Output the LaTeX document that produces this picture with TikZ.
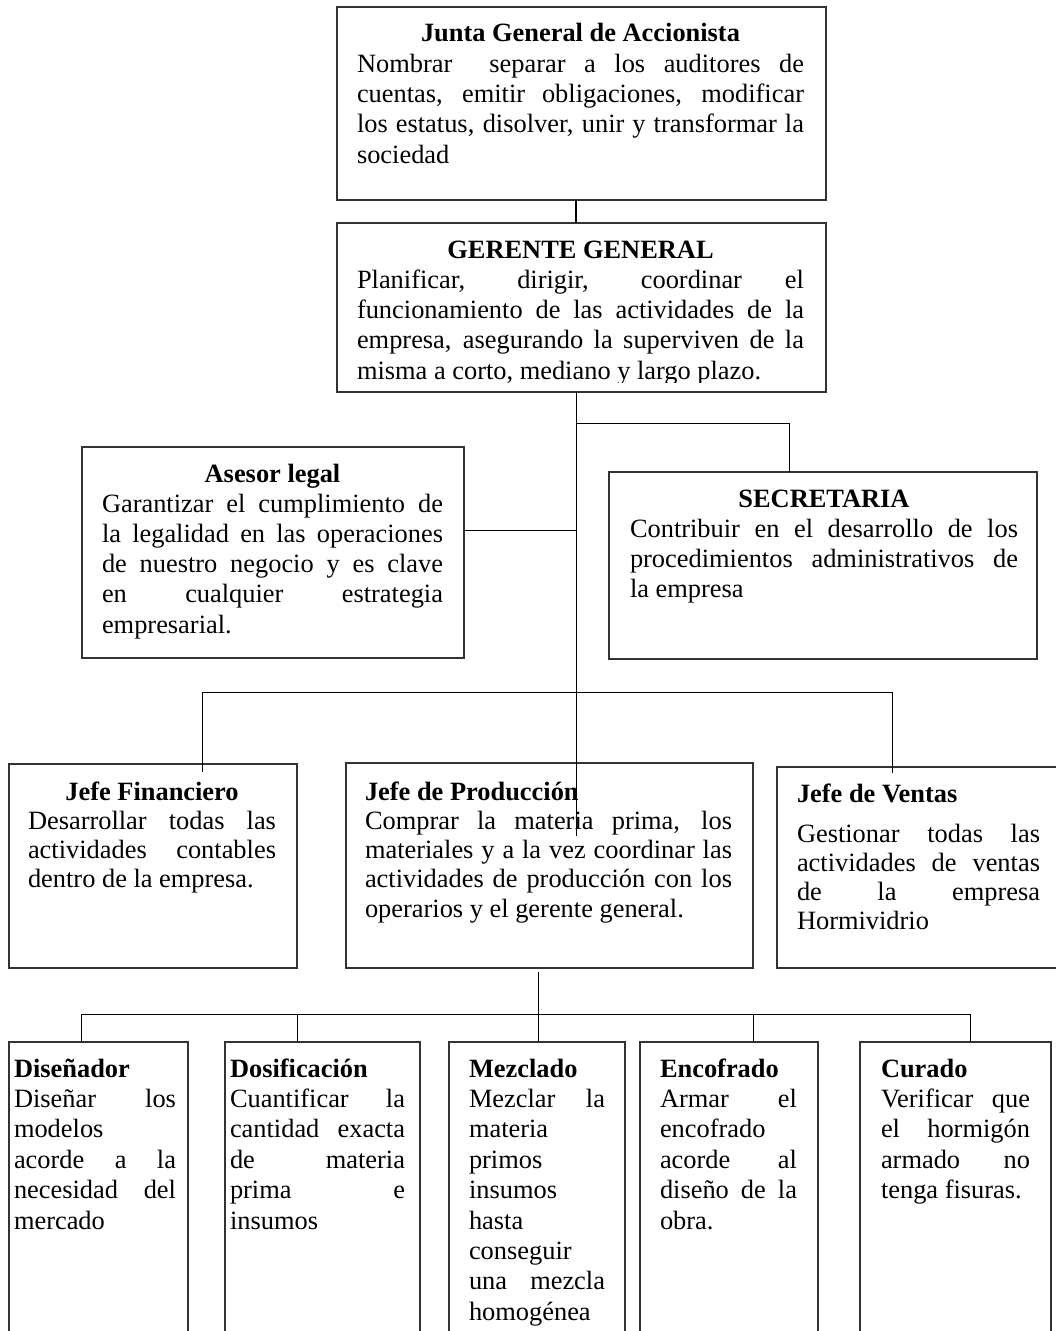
\documentclass[tikz,border=0pt]{standalone}
\usepackage{fontspec}
\setmainfont{Liberation Serif}
\newcommand\jl[1]{\makebox[\linewidth][s]{#1}}
\newcommand\ctitle[1]{\makebox[\linewidth][c]{\bfseries #1}}
\newcommand\ltitle[1]{{\bfseries #1}}
\newcommand\boxtext[3]{\parbox[t]{#1}{\fontsize{26.4pt}{#2}\selectfont #3}}
\begin{document}
\begin{tikzpicture}[x=1pt,y=-1pt,
  box/.style={draw=black!80, line width=1.2pt, inner sep=0pt, outer sep=0pt},
  conn/.style={draw=black, line width=1pt},
  thickconn/.style={draw=black, line width=2.6pt},
  txt/.style={anchor=base west, inner sep=0pt, outer sep=0pt}]
\useasboundingbox (0,0) rectangle (1056,1331);
\fill[white] (0,0) rectangle (1056,1331);

% ---------- boxes ----------
\node[box, minimum width=489pt, minimum height=193pt] (junta) at (581.5,103.5) {};
\node[box, minimum width=489pt, minimum height=169pt] (gerente) at (581.5,307.5) {};
\node[box, minimum width=382pt, minimum height=211pt] (asesor) at (273,552.5) {};
\node[box, minimum width=428pt, minimum height=187pt] (secre) at (823,565.5) {};
\node[box, minimum width=288pt, minimum height=204pt] (fin) at (153,866) {};
\node[box, minimum width=407pt, minimum height=205pt] (prod) at (549.5,865.5) {};
\node[box, minimum width=293pt, minimum height=201pt] (ventas) at (923.5,867.5) {};
\node[box, minimum width=179pt, minimum height=303pt] (dis) at (98.5,1193.5) {};
\node[box, minimum width=195pt, minimum height=303pt] (dos) at (322.5,1193.5) {};
\node[box, minimum width=176pt, minimum height=303pt] (mez) at (537,1193.5) {};
\node[box, minimum width=178pt, minimum height=303pt] (enc) at (729,1193.5) {};
\node[box, minimum width=191pt, minimum height=303pt] (cur) at (955.5,1193.5) {};

% ---------- junction coordinates ----------
\coordinate (spine) at (576,0);
\coordinate (spineEnd) at (576,836);
\coordinate (jas) at (576,530);
\coordinate (jsec) at (789,423);
\coordinate (barL) at (202,692);
\coordinate (barR) at (892,692);
\coordinate (finEnd) at (202,772);
\coordinate (venEnd) at (892,773);
\coordinate (pdrop) at (538,972);
\coordinate (bar2L) at (81,1014);
\coordinate (bar2B) at (297,1014);
\coordinate (bar2C) at (538,1014);
\coordinate (bar2D) at (753,1014);
\coordinate (bar2R) at (970,1014);

% ---------- connectors ----------
\draw[thickconn] (spine |- junta.south) -- (spine |- gerente.north);
\draw[conn] (spine |- gerente.south) -- (spineEnd);
\draw[conn] (jas -| asesor.east) -- (jas);
\draw[conn] (spine |- jsec) -- (jsec) -- (jsec |- secre.north);
\draw[conn] (barL) -- (barR);
\draw[conn] (barL) -- (finEnd);
\draw[conn] (barR) -- (venEnd);
\draw[conn] (pdrop) -- (bar2C);
\draw[conn] (bar2L) -- (bar2R);
\draw[conn] (bar2L) -- (bar2L |- dis.north);
\draw[conn] (bar2B) -- (bar2B |- dos.north);
\draw[conn] (bar2C) -- (bar2C |- mez.north);
\draw[conn] (bar2D) -- (bar2D |- enc.north);
\draw[conn] (bar2R) -- (bar2R |- cur.north);

% ---------- texts ----------
\node[txt] (juntaT) at (357,41.7) {\boxtext{447pt}{30.4pt}{%
\ctitle{Junta General de Accionista}\\
\jl{Nombrar\ \ separar a los auditores de}\\
\jl{cuentas, emitir obligaciones, modificar}\\
\jl{los estatus, disolver, unir y transformar la}\\
sociedad}};

\begin{scope}
\clip (337,223) rectangle (826,382);
\node[txt] (gerenteT) at (357,258) {\boxtext{447pt}{30.3pt}{%
\ctitle{GERENTE GENERAL}\\
\jl{Planificar, dirigir, coordinar el}\\
\jl{funcionamiento de las actividades de la}\\
\jl{empresa, asegurando la superviven de la}\\
misma a corto, mediano y largo plazo.}};
\end{scope}

\node[txt] (asesorT) at (102,482) {\boxtext{341pt}{30.2pt}{%
\ctitle{Asesor legal}\\
\jl{Garantizar el cumplimiento de}\\
\jl{la legalidad en las operaciones}\\
\jl{de nuestro negocio y es clave}\\
\jl{en cualquier estrategia}\\
empresarial.}};

\node[txt] (secreT) at (630,507) {\boxtext{388pt}{30pt}{%
\ctitle{SECRETARIA}\\
\jl{Contribuir en el desarrollo de los}\\
\jl{procedimientos administrativos de}\\
la empresa}};

\node[txt] (finT) at (28,800) {\boxtext{248pt}{29.3pt}{%
\ctitle{Jefe Financiero}\\
\jl{Desarrollar todas las}\\
\jl{actividades contables}\\
dentro de la empresa.}};

\node[txt] (prodT) at (365,800) {\boxtext{367pt}{29.3pt}{%
\ltitle{Jefe de Producción}\\
\jl{Comprar la materia prima, los}\\
\jl{materiales y a la vez coordinar las}\\
\jl{actividades de producción con los}\\
operarios y el gerente general.}};

\node[txt] (ventasT) at (797,802) {\boxtext{243pt}{28.8pt}{%
\ltitle{Jefe de Ventas}\\[12pt]
\jl{Gestionar todas las}\\
\jl{actividades de ventas}\\
\jl{de la empresa}\\
Hormividrio}};

\node[txt] (disT) at (14,1077) {\boxtext{162pt}{30.4pt}{%
\ltitle{Diseñador}\\
\jl{Diseñar los}\\
modelos\\
\jl{acorde a la}\\
\jl{necesidad del}\\
mercado}};

\node[txt] (dosT) at (230,1077) {\boxtext{175pt}{30.4pt}{%
\ltitle{Dosificación}\\
\jl{Cuantificar la}\\
\jl{cantidad exacta}\\
\jl{de materia}\\
\jl{prima e}\\
insumos}};

\node[txt] (mezT) at (469,1077) {\boxtext{136pt}{30.4pt}{%
\ltitle{Mezclado}\\
\jl{Mezclar la}\\
materia\\
primos\\
insumos\\
hasta\\
conseguir\\
\jl{una mezcla}\\
homogénea}};

\node[txt] (encT) at (660,1077) {\boxtext{137pt}{30.4pt}{%
\ltitle{Encofrado}\\
\jl{Armar el}\\
encofrado\\
\jl{acorde al}\\
\jl{diseño de la}\\
obra.}};

\node[txt] (curT) at (881,1077) {\boxtext{149pt}{30.4pt}{%
\ltitle{Curado}\\
\jl{Verificar que}\\
\jl{el hormigón}\\
\jl{armado no}\\
tenga fisuras.}};
\end{tikzpicture}
\end{document}
